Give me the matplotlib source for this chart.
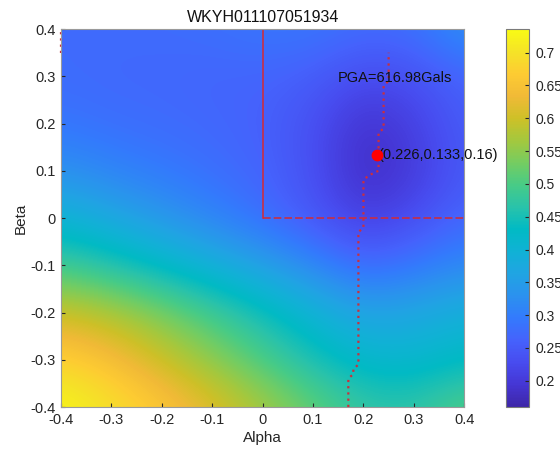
import numpy as np
import matplotlib
matplotlib.use("Agg")
from matplotlib import pyplot as plt
from matplotlib.colors import LinearSegmentedColormap

# 网格坐标
alpha = [-0.4, -0.3, -0.2, -0.1, 0.0, 0.1, 0.2, 0.3, 0.4]
beta = [-0.4, -0.3, -0.2, -0.1, 0.0, 0.1, 0.2, 0.3, 0.4]

# 各网格点的值 (每行一个beta, 从下到上)
z_b_m04 = [0.735, 0.70, 0.665, 0.62, 0.57, 0.52, 0.475, 0.47, 0.51]
z_b_m03 = [0.68, 0.65, 0.60, 0.55, 0.50, 0.45, 0.415, 0.41, 0.43]
z_b_m02 = [0.60, 0.575, 0.535, 0.49, 0.445, 0.40, 0.36, 0.37, 0.39]
z_b_m01 = [0.49, 0.46, 0.425, 0.39, 0.355, 0.315, 0.27, 0.29, 0.32]
z_b_00 = [0.40, 0.37, 0.34, 0.31, 0.28, 0.245, 0.205, 0.23, 0.27]
z_b_01 = [0.33, 0.31, 0.295, 0.28, 0.265, 0.235, 0.175, 0.20, 0.25]
z_b_02 = [0.29, 0.28, 0.275, 0.27, 0.26, 0.235, 0.185, 0.21, 0.255]
z_b_03 = [0.275, 0.27, 0.27, 0.265, 0.265, 0.255, 0.225, 0.235, 0.265]
z_b_04 = [0.275, 0.275, 0.275, 0.28, 0.29, 0.29, 0.275, 0.28, 0.33]

# 每行最小值所在alpha (分段: alpha, beta起, beta止, 步长0.01)
path_segments = [
    (0.17, -0.40, -0.34),
    (0.18, -0.33, -0.32),
    (0.19, -0.31, -0.03),
    (0.20, -0.02, 0.08),
    (0.21, 0.09, 0.09),
    (0.23, 0.10, 0.18),
    (0.24, 0.19, 0.28),
    (0.25, 0.29, 0.35),
]
corner_segment = (-0.40, 0.35, 0.40)

# 最小值点
min_alpha, min_beta, min_val = 0.226, 0.133, 0.16
pga_text = "PGA=616.98Gals"
title = "WKYH011107051934"

z_min, z_max = 0.16, 0.736
cbar_ticks = [0.2, 0.25, 0.3, 0.35, 0.4, 0.45, 0.5, 0.55, 0.6, 0.65, 0.7]

# parula 颜色表 (抽样)
parula = [
    [0.2422, 0.1504, 0.6603], [0.2704, 0.2138, 0.8346], [0.2813, 0.2985, 0.9397],
    [0.2710, 0.3860, 0.9898], [0.2006, 0.4803, 0.9906], [0.1686, 0.5705, 0.9357],
    [0.1253, 0.6453, 0.8887], [0.0628, 0.6972, 0.8355], [0.0046, 0.7301, 0.7688],
    [0.1609, 0.7635, 0.6671], [0.2809, 0.7964, 0.5266], [0.4608, 0.8018, 0.3797],
    [0.6433, 0.7839, 0.2423], [0.8060, 0.7529, 0.1546], [0.9440, 0.7285, 0.2151],
    [0.9938, 0.7974, 0.1974], [0.9608, 0.8902, 0.1532], [0.9769, 0.9839, 0.0805],
]
cmap = LinearSegmentedColormap.from_list("parula", parula, N=256)

plt.rcParams['font.family'] = ['Liberation Sans', 'DejaVu Sans']

Z = np.array([z_b_m04, z_b_m03, z_b_m02, z_b_m01, z_b_00, z_b_01, z_b_02, z_b_03, z_b_04])

fig = plt.figure(figsize=(5.6, 4.57), dpi=100)
ax = fig.add_axes([0.109, 0.1094, 0.720, 0.827])
cax = fig.add_axes([0.9036, 0.1094, 0.041, 0.827])

half = 0.05
im = ax.imshow(Z, origin="lower", cmap=cmap, vmin=z_min, vmax=z_max,
               extent=[alpha[0] - half, alpha[-1] + half, beta[0] - half, beta[-1] + half],
               interpolation="bicubic", aspect="auto")
ax.set_xlim(-0.4, 0.4)
ax.set_ylim(-0.4, 0.4)

# 分区线
line_c = "#d42a35"
ax.plot([0, 0], [0.4, 0], color=line_c, lw=1.1)
ax.plot([0, 0.4], [0, 0], color=line_c, lw=1.1, ls=(0, (5, 2)))

# 最小值路径
px, py = [], []
for a, b0, b1 in path_segments:
    n = int(round((b1 - b0) / 0.01)) + 1
    for i in range(n):
        px.append(a)
        py.append(b0 + i * 0.01)
ax.plot(px, py, color="#cc2f3b", lw=1.6, ls=(0, (1, 1.8)))

a, b0, b1 = corner_segment
n = int(round((b1 - b0) / 0.01)) + 1
ax.plot([a] * n, [b0 + i * 0.01 for i in range(n)], color="#cc2f3b", lw=1.6,
        ls=(0, (1, 1.8)), clip_on=False)

ax.plot([min_alpha], [min_beta], "o", color="#ff0000", ms=7.5, zorder=5)
ax.text(min_alpha + 0.004, min_beta, "({:.3f},{:.3f},{:.2f})".format(min_alpha, min_beta, min_val),
        ha="left", va="center", fontsize=10.5, color="#111111")
ax.text(0.15, 0.296, pga_text, ha="left", va="center", fontsize=10.5, color="#111111")

ticks = [-0.4, -0.3, -0.2, -0.1, 0, 0.1, 0.2, 0.3, 0.4]
ax.set_xticks(ticks)
ax.set_yticks(ticks)
ax.set_xticklabels(["{:g}".format(t) for t in ticks])
ax.set_yticklabels(["{:g}".format(t) for t in ticks])
ax.tick_params(direction="in", length=3, labelsize=10.5, colors="#262626", pad=4)
for s in ax.spines.values():
    s.set_color("#9a9a9a")
    s.set_linewidth(0.8)

ax.set_xlabel("Alpha", fontsize=11, color="#262626", labelpad=3)
ax.set_ylabel("Beta", fontsize=11, color="#262626", labelpad=2)
ax.set_title(title, fontsize=11.5, color="#111111", pad=5)

cb = fig.colorbar(im, cax=cax, ticks=cbar_ticks)
cb.ax.set_yticklabels(["{:g}".format(t) for t in cbar_ticks])
cb.ax.tick_params(direction="in", length=3, labelsize=10, colors="#262626", pad=5)
cb.outline.set_edgecolor("#7a7a7a")
cb.outline.set_linewidth(0.8)

fig.savefig("out.png", dpi=100)
